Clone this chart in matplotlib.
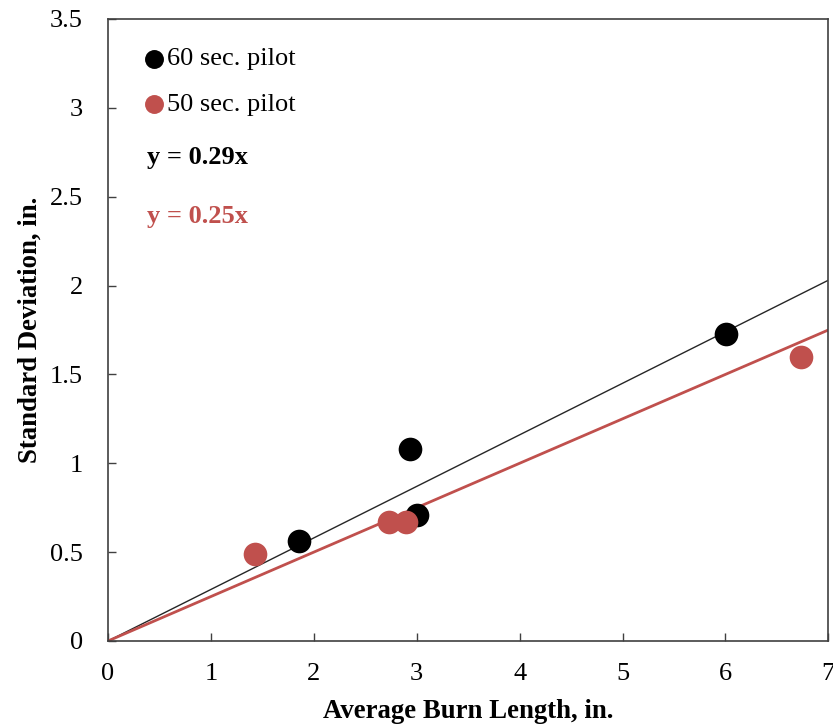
import numpy as np
import matplotlib.pyplot as plt

plt.rcParams['font.family'] = ['Liberation Serif', 'DejaVu Serif']

# average burn length (in.) vs standard deviation (in.)
x60 = [1.86, 2.93, 3.00, 6.01]
sd60 = [0.56, 1.08, 0.71, 1.73]
x50 = [1.43, 2.73, 2.90, 6.73]
sd50 = [0.49, 0.67, 0.67, 1.60]
slope60 = 0.29
slope50 = 0.25

red = '#C0504D'

fig = plt.figure(figsize=(8.33, 7.25), dpi=100)
ax = fig.add_axes([0.1297, 0.1159, 0.8647, 0.8579])

xx = np.array([0, 7])
ax.plot(xx, slope60*xx, color='#262626', lw=1.0, zorder=2)
ax.plot(xx, slope50*xx, color=red, lw=2.0, zorder=2)
ax.scatter(x60, sd60, s=290, color='black', zorder=3, label='60 sec. pilot', linewidths=0)
ax.scatter(x50, sd50, s=290, color=red, zorder=3, label='50 sec. pilot', linewidths=0)

ax.set_xlim(0, 7)
ax.set_ylim(0, 3.5)
ax.set_xticks(range(0, 8))
ax.set_yticks(np.arange(0, 3.51, 0.5))
ax.set_yticklabels(['0', '0.5', '1', '1.5', '2', '2.5', '3', '3.5'])
ax.tick_params(direction='in', length=6, width=1, labelsize=19, color='#404040')
ax.tick_params(axis='x', pad=16)
ax.tick_params(axis='y', pad=18)
for s in ax.spines.values():
    s.set_color('#404040')
    s.set_linewidth(1.2)

ax.set_xlabel('Average Burn Length, in.', fontsize=19.3, fontweight='bold', labelpad=10)
ax.set_ylabel('Standard Deviation, in.', fontsize=19.3, fontweight='bold', labelpad=5)

leg = ax.legend(loc='upper left', bbox_to_anchor=(0.012, 0.972), frameon=False, fontsize=19,
                handletextpad=-0.5, labelspacing=0.83, markerscale=0.8, borderaxespad=0)

ax.text(0.054, 0.777, 'y = 0.29x', transform=ax.transAxes, fontsize=19, fontweight='bold',
        color='black', va='center')
ax.text(0.054, 0.683, 'y = 0.25x', transform=ax.transAxes, fontsize=19, fontweight='bold',
        color=red, va='center')

fig.savefig('out.png', dpi=100)
